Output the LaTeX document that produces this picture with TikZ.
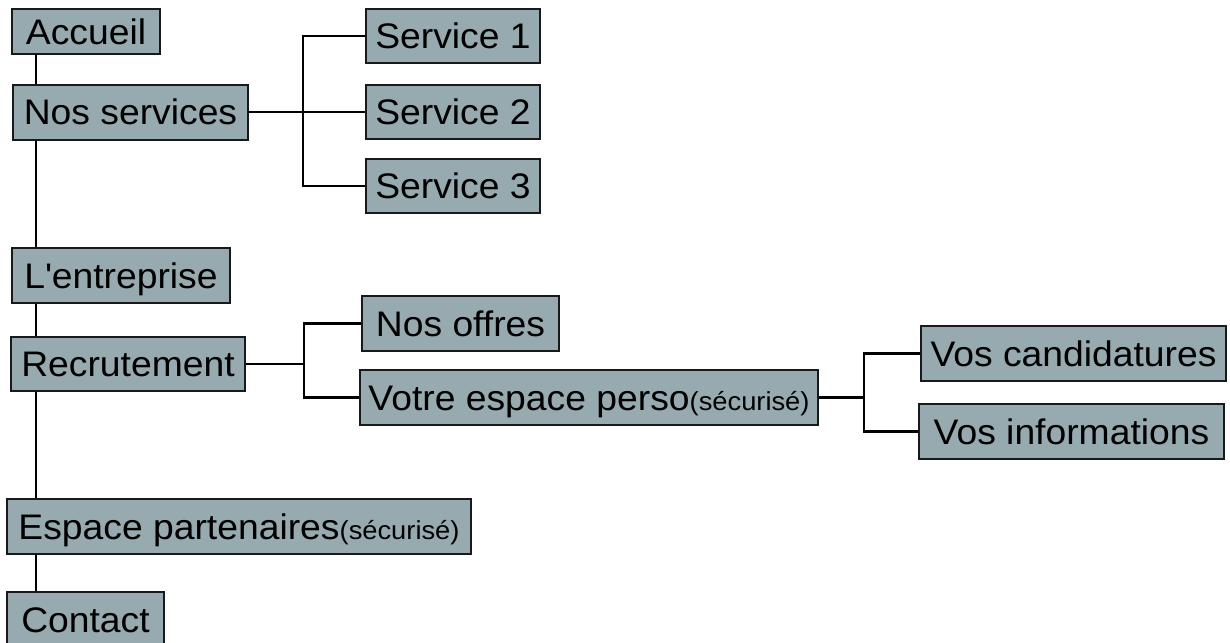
\documentclass[tikz,border=0pt]{standalone}
\usepackage{fontspec}
\setmainfont{Liberation Sans}[FakeStretch=1.05]
\definecolor{boxfill}{RGB}{150,170,175}
\definecolor{boxline}{RGB}{25,25,25}
\newcommand{\secu}{{\fontsize{26}{30}\selectfont(sécurisé)}}
\begin{document}
\begin{tikzpicture}[x=1pt,y=-1pt,
  menubox/.style={draw=boxline,line width=2pt,fill=boxfill,rectangle,inner sep=0pt,
    text height=25.4pt,text depth=0pt,
    font=\fontsize{35.5}{40}\selectfont},
  link/.style={draw=black,line width=2.1pt}]
\useasboundingbox (0,0) rectangle (1230,642);
% main column
\node[menubox,minimum width=148,minimum height=45] (acc) at (86,31.5) {Accueil};
\node[menubox,minimum width=235,minimum height=55] (nos) at (130.5,112) {Nos services};
\node[menubox,minimum width=218,minimum height=55] (ent) at (121,275.5) {L\textquotesingle entreprise};
\node[menubox,minimum width=234,minimum height=54] (rec) at (128,364) {Recrutement};
\node[menubox,minimum width=464,minimum height=55] (esp) at (239,526.5) {Espace partenaires\secu};
\node[menubox,minimum width=157,minimum height=55] (con) at (85.5,619.5) {Contact};
% services
\node[menubox,minimum width=174,minimum height=54] (s1) at (453,36) {Service 1};
\node[menubox,minimum width=174,minimum height=54] (s2) at (453,112) {Service 2};
\node[menubox,minimum width=174,minimum height=54] (s3) at (453,186) {Service 3};
% recrutement
\node[menubox,minimum width=197,minimum height=55] (off) at (460.5,323.5) {Nos offres};
\node[menubox,minimum width=458,minimum height=55] (vot) at (589,397.5) {Votre espace perso\secu};
% espace perso
\node[menubox,minimum width=305,minimum height=55] (vc) at (1073.5,353.5) {Vos candidatures};
\node[menubox,minimum width=305,minimum height=55] (vi) at (1071.5,431.5) {Vos informations};
% trunk
\coordinate (tr) at (36,0);
\draw[link] (tr |- acc.south) -- (tr |- nos.north);
\draw[link] (tr |- nos.south) -- (tr |- ent.north);
\draw[link] (tr |- ent.south) -- (tr |- rec.north);
\draw[link] (tr |- rec.south) -- (tr |- esp.north);
\draw[link] (tr |- esp.south) -- (tr |- con.north);
% branches
\coordinate (b1) at (303,0);
\draw[link] (nos.east) -- (s2.west);
\draw[link] (s1.west) -| (b1 |- s3.west) -- (s3.west);
\coordinate (b2) at (304,0);
\draw[link] (rec.east) -- (rec.east -| b2);
\draw[link] (off.west) -| (b2 |- vot.west) -- (vot.west);
\coordinate (b3) at (864,0);
\draw[link] (vot.east) -- (vot.east -| b3);
\draw[link] (vc.west) -| (b3 |- vi.west) -- (vi.west);
\end{tikzpicture}
\end{document}
